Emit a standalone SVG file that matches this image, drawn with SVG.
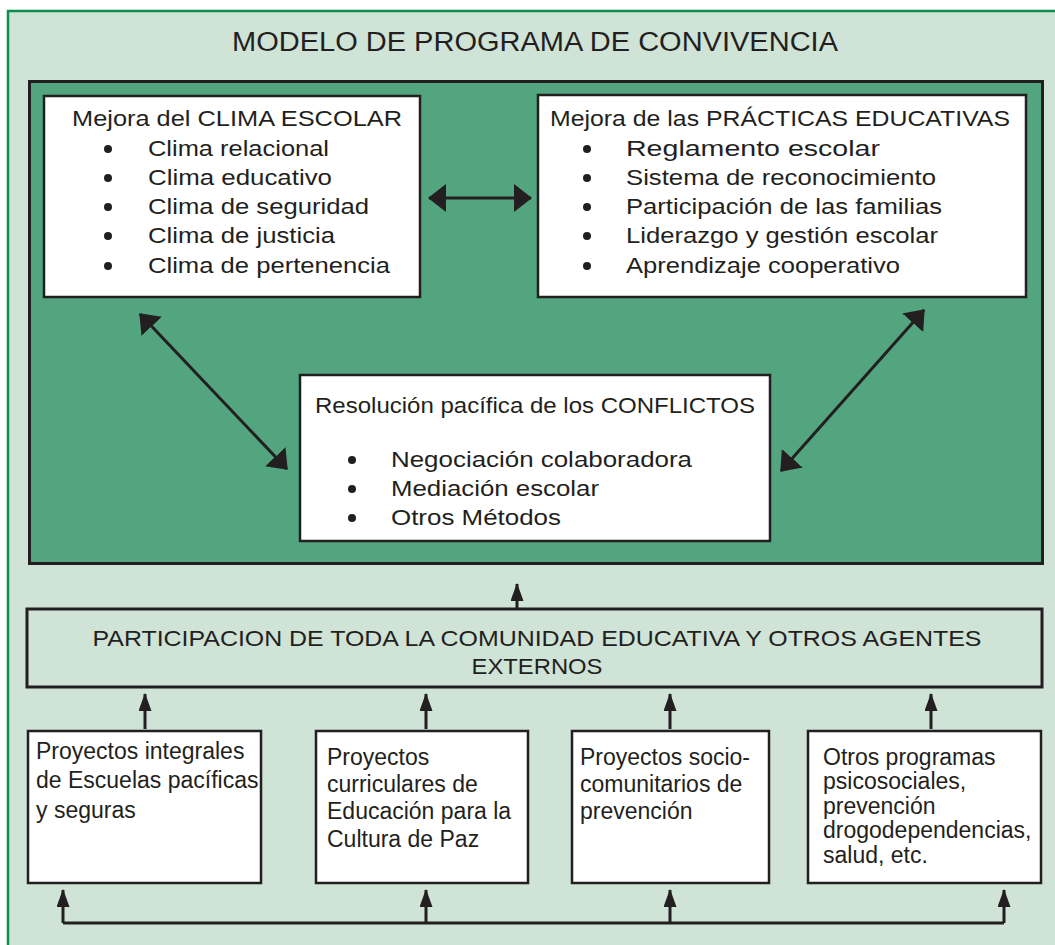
<svg xmlns="http://www.w3.org/2000/svg" width="1055" height="945" viewBox="0 0 1055 945">
<style>
text{font-family:"Liberation Sans",Arial,sans-serif;fill:#231f20;font-size:22px}
.title{font-size:27px}
.sm{font-size:23px}
.box{fill:#fff;stroke:#231f20;stroke-width:2.5}
.c{text-anchor:middle}
.ln{fill:none;stroke:#231f20;stroke-width:3}
.dot{fill:#231f20}
</style>
<defs>
<marker id="big" markerUnits="userSpaceOnUse" markerWidth="20" markerHeight="30" refX="17" refY="14" orient="auto-start-reverse" viewBox="0 0 20 30">
<path d="M0,0 L18,14 L0,28 Z" fill="#231f20"/>
</marker>
<marker id="sm" markerUnits="userSpaceOnUse" markerWidth="18" markerHeight="14" refX="17" refY="6.5" orient="auto" viewBox="0 0 18 14">
<path d="M0,0 L18,6.5 L0,13 Z" fill="#231f20"/>
</marker>
</defs>
<rect x="8" y="11" width="1070" height="960" fill="#cfe3d7" stroke="#0f8c50" stroke-width="2.5"/>
<text class="title c" x="535" y="51" textLength="606" lengthAdjust="spacingAndGlyphs">MODELO DE PROGRAMA DE CONVIVENCIA</text>
<rect id="panel" x="29.5" y="81.5" width="1013" height="482" fill="#52a57f" stroke="#231f20" stroke-width="3"/>
<g id="clima">
<rect class="box" x="44" y="96" width="376" height="201"/>
<text x="72" y="126" textLength="330" lengthAdjust="spacingAndGlyphs">Mejora del CLIMA ESCOLAR</text>
<circle class="dot" cx="108" cy="149" r="4"/><text x="148" y="156" textLength="181" lengthAdjust="spacingAndGlyphs">Clima relacional</text>
<circle class="dot" cx="108" cy="178" r="4"/><text x="148" y="185" textLength="184" lengthAdjust="spacingAndGlyphs">Clima educativo</text>
<circle class="dot" cx="108" cy="207" r="4"/><text x="148" y="214" textLength="221" lengthAdjust="spacingAndGlyphs">Clima de seguridad</text>
<circle class="dot" cx="108" cy="236" r="4"/><text x="148" y="243" textLength="187" lengthAdjust="spacingAndGlyphs">Clima de justicia</text>
<circle class="dot" cx="108" cy="266" r="4"/><text x="148" y="273" textLength="242" lengthAdjust="spacingAndGlyphs">Clima de pertenencia</text>
</g>
<g id="practicas">
<rect class="box" x="538" y="95" width="488" height="202"/>
<text x="550" y="126" textLength="460" lengthAdjust="spacingAndGlyphs">Mejora de las PRÁCTICAS EDUCATIVAS</text>
<circle class="dot" cx="587" cy="149" r="4"/><text x="626" y="156" textLength="254" lengthAdjust="spacingAndGlyphs">Reglamento escolar</text>
<circle class="dot" cx="587" cy="178" r="4"/><text x="626" y="185" textLength="310" lengthAdjust="spacingAndGlyphs">Sistema de reconocimiento</text>
<circle class="dot" cx="587" cy="207" r="4"/><text x="626" y="214" textLength="316" lengthAdjust="spacingAndGlyphs">Participación de las familias</text>
<circle class="dot" cx="587" cy="236" r="4"/><text x="626" y="243" textLength="312" lengthAdjust="spacingAndGlyphs">Liderazgo y gestión escolar</text>
<circle class="dot" cx="587" cy="266" r="4"/><text x="626" y="273" textLength="274" lengthAdjust="spacingAndGlyphs">Aprendizaje cooperativo</text>
</g>
<g id="conflictos">
<rect class="box" x="300" y="375" width="470" height="166"/>
<text x="315" y="413" textLength="440" lengthAdjust="spacingAndGlyphs">Resolución pacífica de los CONFLICTOS</text>
<circle class="dot" cx="352" cy="460" r="4"/><text x="391" y="467" textLength="301" lengthAdjust="spacingAndGlyphs">Negociación colaboradora</text>
<circle class="dot" cx="352" cy="489" r="4"/><text x="391" y="496" textLength="208" lengthAdjust="spacingAndGlyphs">Mediación escolar</text>
<circle class="dot" cx="352" cy="518" r="4"/><text x="391" y="525" textLength="170" lengthAdjust="spacingAndGlyphs">Otros Métodos</text>
</g>
<g id="participacion">
<rect x="27" y="609" width="1015" height="78" fill="none" stroke="#231f20" stroke-width="3"/>
<text class="c" x="537" y="646" textLength="889" lengthAdjust="spacingAndGlyphs">PARTICIPACION DE TODA LA COMUNIDAD EDUCATIVA Y OTROS AGENTES</text>
<text class="c" x="537" y="674" textLength="131" lengthAdjust="spacingAndGlyphs">EXTERNOS</text>
</g>
<g id="escuelas">
<rect class="box" x="28" y="731" width="233" height="152"/>
<text class="sm" x="36" y="759">Proyectos integrales</text>
<text class="sm" x="36" y="788">de Escuelas pacíficas</text>
<text class="sm" x="36" y="818">y seguras</text>
</g>
<g id="curriculares">
<rect class="box" x="316" y="731" width="212" height="152"/>
<text class="sm" x="327" y="765">Proyectos</text>
<text class="sm" x="327" y="792">curriculares de</text>
<text class="sm" x="327" y="819">Educación para la</text>
<text class="sm" x="327" y="847">Cultura de Paz</text>
</g>
<g id="sociocomunitarios">
<rect class="box" x="572" y="731" width="197" height="152"/>
<text class="sm" x="580" y="765">Proyectos socio-</text>
<text class="sm" x="580" y="792">comunitarios de</text>
<text class="sm" x="580" y="819">prevención</text>
</g>
<g id="otros">
<rect class="box" x="808" y="731" width="233" height="152"/>
<text class="sm" x="823" y="765">Otros programas</text>
<text class="sm" x="823" y="789">psicosociales,</text>
<text class="sm" x="823" y="814">prevención</text>
<text class="sm" x="823" y="838">drogodependencias,</text>
<text class="sm" x="823" y="863">salud, etc.</text>
</g>
<g id="connectors">
<path class="ln" d="M429,198 H531" marker-start="url(#big)" marker-end="url(#big)"/>
<path class="ln" d="M140,314 L287,469" marker-start="url(#big)" marker-end="url(#big)"/>
<path class="ln" d="M924,310 L781,471" marker-start="url(#big)" marker-end="url(#big)"/>
<path class="ln" d="M517,608 V584" marker-end="url(#sm)"/>
<path class="ln" d="M145,729 V694" marker-end="url(#sm)"/>
<path class="ln" d="M426,729 V694" marker-end="url(#sm)"/>
<path class="ln" d="M670,729 V694" marker-end="url(#sm)"/>
<path class="ln" d="M931,729 V694" marker-end="url(#sm)"/>
<path class="ln" d="M63,923 H1004"/>
<path class="ln" d="M63,923 V890" marker-end="url(#sm)"/>
<path class="ln" d="M426,923 V890" marker-end="url(#sm)"/>
<path class="ln" d="M670,923 V890" marker-end="url(#sm)"/>
<path class="ln" d="M1004,923 V890" marker-end="url(#sm)"/>
</g>
</svg>
